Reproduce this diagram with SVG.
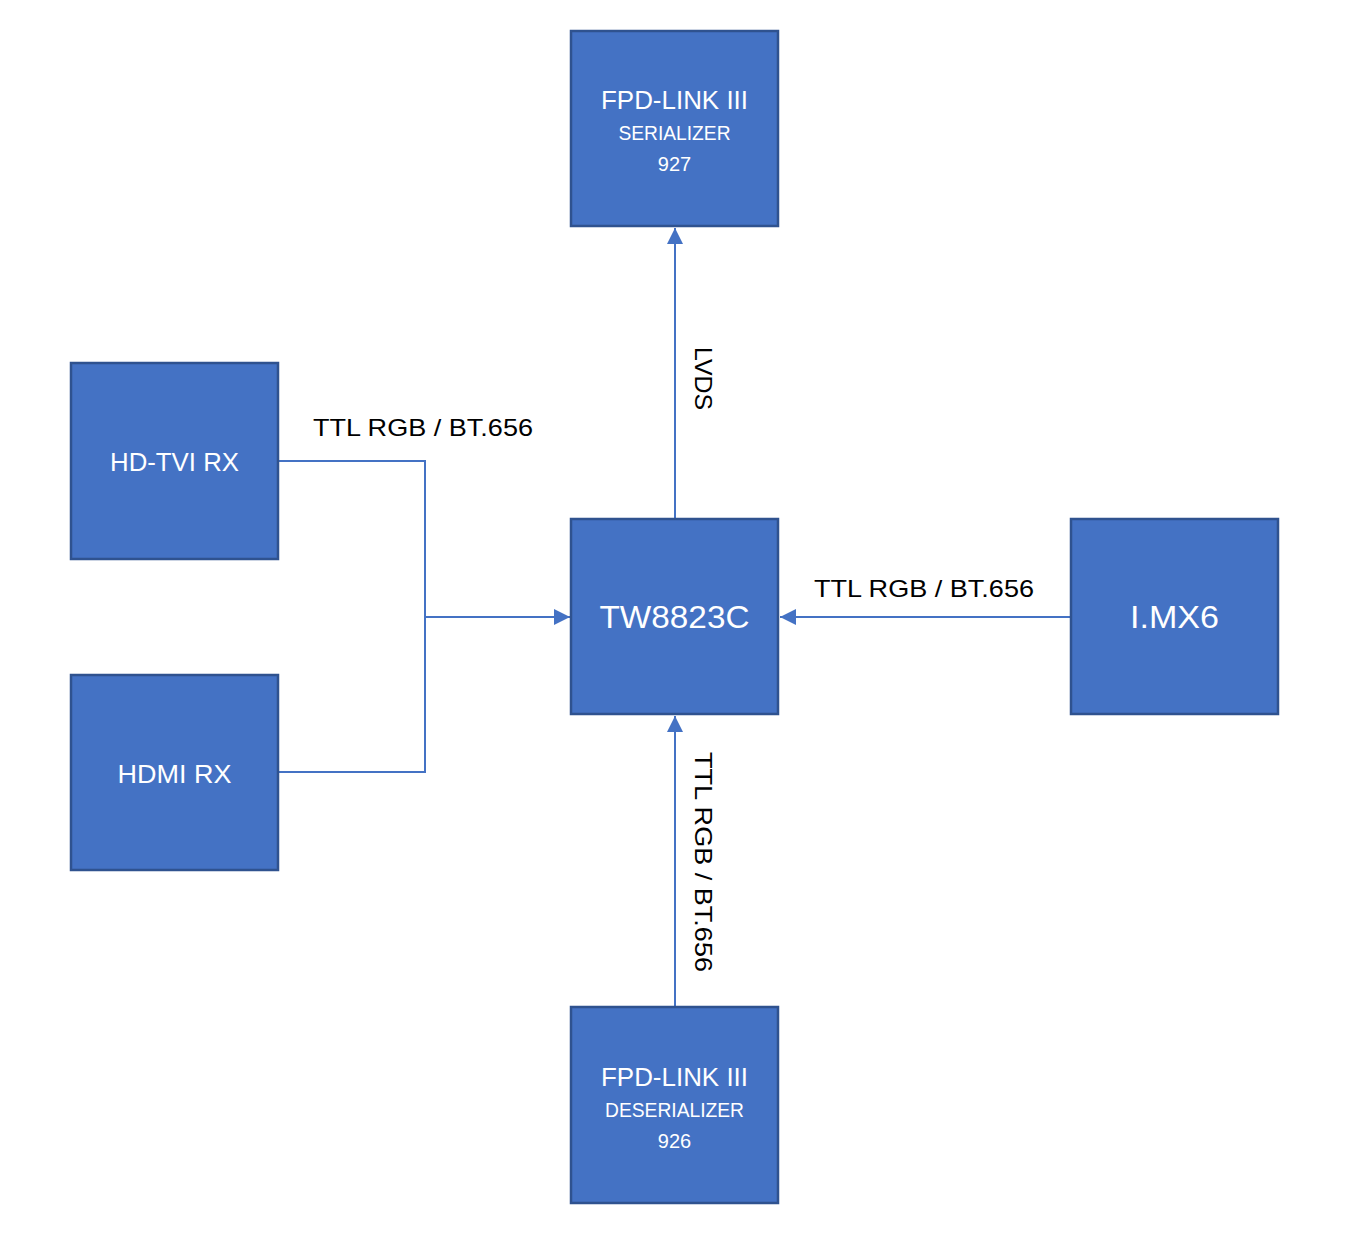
<svg xmlns="http://www.w3.org/2000/svg" width="1348" height="1237" viewBox="0 0 1348 1237">
<style>
.box{fill:#4472C4;stroke:#2F528F;stroke-width:2.5}
.t{fill:#FFFFFF;font-family:"Liberation Sans",Arial,sans-serif;text-anchor:middle}
.lbl{fill:#000000;font-family:"Liberation Sans",Arial,sans-serif;font-size:24px}
.conn{fill:none;stroke:#4472C4;stroke-width:2}
</style>
<defs>
<marker id="arr" viewBox="0 0 16 16" refX="16" refY="8" markerWidth="16" markerHeight="16" markerUnits="userSpaceOnUse" orient="auto">
<path d="M0,0 L16,8 L0,16 Z" fill="#4472C4"/>
</marker>
</defs>
<rect width="1348" height="1237" fill="#FFFFFF"/>
<g id="connectors">
<path class="conn" d="M279,461 H425 V772 H279"/>
<path class="conn" d="M425,617 H570" marker-end="url(#arr)"/>
<path class="conn" d="M1070,617 H780" marker-end="url(#arr)"/>
<path class="conn" d="M675,518 V228" marker-end="url(#arr)"/>
<path class="conn" d="M675,1006 V716" marker-end="url(#arr)"/>
</g>
<g id="labels">
<text class="lbl" x="313" y="436" textLength="220" lengthAdjust="spacingAndGlyphs">TTL RGB / BT.656</text>
<text class="lbl" x="814" y="597" textLength="220" lengthAdjust="spacingAndGlyphs">TTL RGB / BT.656</text>
<text class="lbl" transform="translate(695,347) rotate(90)" textLength="63" lengthAdjust="spacingAndGlyphs">LVDS</text>
<text class="lbl" transform="translate(695,752) rotate(90)" textLength="220" lengthAdjust="spacingAndGlyphs">TTL RGB / BT.656</text>
</g>
<g id="serializer">
<rect class="box" x="571" y="31" width="207" height="195"/>
<text class="t" x="674.5" y="109" font-size="26" textLength="147" lengthAdjust="spacingAndGlyphs">FPD-LINK III</text>
<text class="t" x="674.5" y="140" font-size="20" textLength="112" lengthAdjust="spacingAndGlyphs">SERIALIZER</text>
<text class="t" x="674.5" y="171" font-size="20">927</text>
</g>
<g id="hdtvi">
<rect class="box" x="71" y="363" width="207" height="196"/>
<text class="t" x="174.5" y="471" font-size="26" textLength="129" lengthAdjust="spacingAndGlyphs">HD-TVI RX</text>
</g>
<g id="hdmi">
<rect class="box" x="71" y="675" width="207" height="195"/>
<text class="t" x="174.5" y="783" font-size="26" textLength="114" lengthAdjust="spacingAndGlyphs">HDMI RX</text>
</g>
<g id="tw8823c">
<rect class="box" x="571" y="519" width="207" height="195"/>
<text class="t" x="674.5" y="628" font-size="32" textLength="150" lengthAdjust="spacingAndGlyphs">TW8823C</text>
</g>
<g id="imx6">
<rect class="box" x="1071" y="519" width="207" height="195"/>
<text class="t" x="1174.5" y="628" font-size="32" textLength="89" lengthAdjust="spacingAndGlyphs">I.MX6</text>
</g>
<g id="deserializer">
<rect class="box" x="571" y="1007" width="207" height="196"/>
<text class="t" x="674.5" y="1086" font-size="26" textLength="147" lengthAdjust="spacingAndGlyphs">FPD-LINK III</text>
<text class="t" x="674.5" y="1117" font-size="20" textLength="139" lengthAdjust="spacingAndGlyphs">DESERIALIZER</text>
<text class="t" x="674.5" y="1148" font-size="20">926</text>
</g>
</svg>
